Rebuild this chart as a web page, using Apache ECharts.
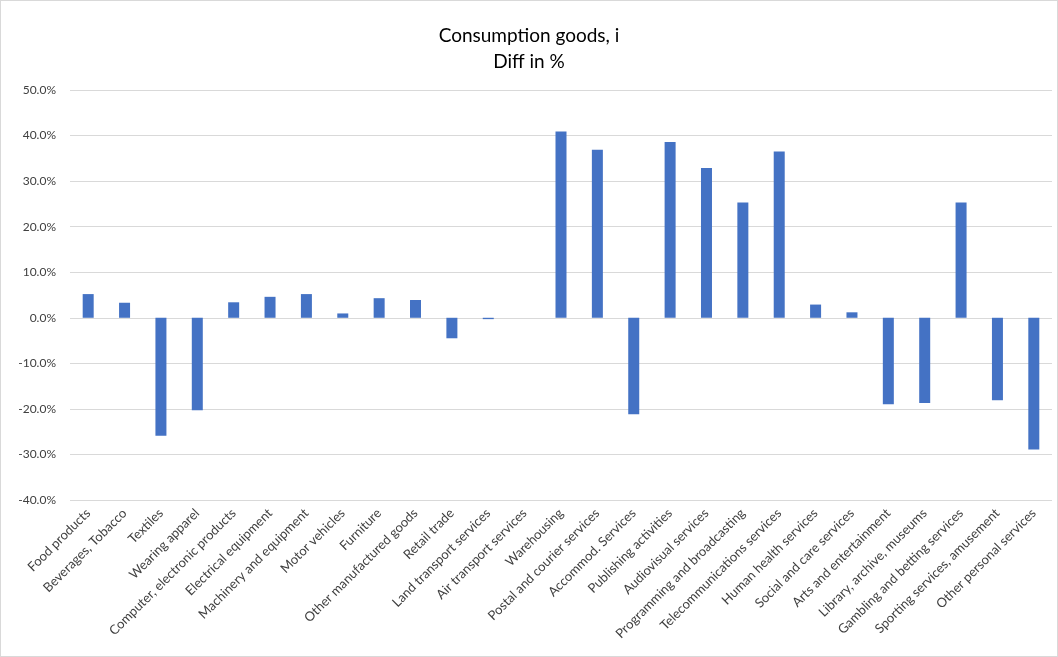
<!DOCTYPE html>
<html>
<head>
<meta charset="utf-8">
<script src="https://cdn.jsdelivr.net/npm/echarts@6/dist/echarts.min.js"></script>
<style>
  html, body { margin: 0; padding: 0; background: #fff; }
  #chart { width: 1058px; height: 657px; box-sizing: border-box; border: 1px solid #d9d9d9; }
</style>
</head>
<body>
<div id="chart"></div>
<script>
// categories along the x axis
const categories = [
  'Food products', 'Beverages, Tobacco', 'Textiles', 'Wearing apparel',
  'Computer, electronic products', 'Electrical equipment', 'Machinery and equipment',
  'Motor vehicles', 'Furniture', 'Other manufactured goods', 'Retail trade',
  'Land transport services', 'Air transport services', 'Warehousing',
  'Postal and courier services', 'Accommod. Services', 'Publishing activities',
  'Audiovisual services', 'Programming and broadcasting', 'Telecommunications services',
  'Human health services', 'Social and care services', 'Arts and entertainment',
  'Library, archive, museums', 'Gambling and betting services',
  'Sporting services, amusement', 'Other personal services'
];
// diff in %
const diffValues = [
  5.2, 3.3, -25.9, -20.3, 3.4, 4.6, 5.2, 0.95, 4.3, 3.9, -4.5,
  -0.3, 0, 40.9, 36.9, -21.2, 38.6, 32.9, 25.3, 36.5, 2.9, 1.2,
  -19.0, -18.7, 25.3, -18.1, -28.9
];
const yMin = -40, yMax = 50, yStep = 10;

const font = 'Lato, "Open Sans", sans-serif';
const chart = echarts.init(document.getElementById('chart'));
chart.setOption({
  animation: false,
  title: {
    text: 'Consumption goods, i\nDiff in %',
    left: 'center',
    top: 17,
    textStyle: { fontFamily: font, fontSize: 19, fontWeight: 'normal', color: '#000', lineHeight: 26 }
  },
  grid: { left: 69, right: 5, top: 89, bottom: 156, containLabel: false },
  xAxis: {
    type: 'category',
    data: categories,
    axisLine: { show: false, onZero: false },
    axisTick: { show: false },
    axisLabel: {
      interval: 0,
      rotate: 45,
      margin: 11,
      fontFamily: font,
      fontSize: 13,
      color: '#404040'
    }
  },
  yAxis: {
    type: 'value',
    min: yMin,
    max: yMax,
    interval: yStep,
    axisLine: { show: false },
    axisTick: { show: false },
    splitLine: { lineStyle: { color: '#d9d9d9', width: 1 } },
    axisLabel: {
      margin: 14,
      fontFamily: font,
      fontSize: 12,
      color: '#404040',
      formatter: v => v.toFixed(1) + '%'
    }
  },
  series: [{
    type: 'bar',
    data: diffValues,
    barWidth: 11,
    itemStyle: { color: '#4472C4' }
  }]
});
</script>
</body>
</html>
